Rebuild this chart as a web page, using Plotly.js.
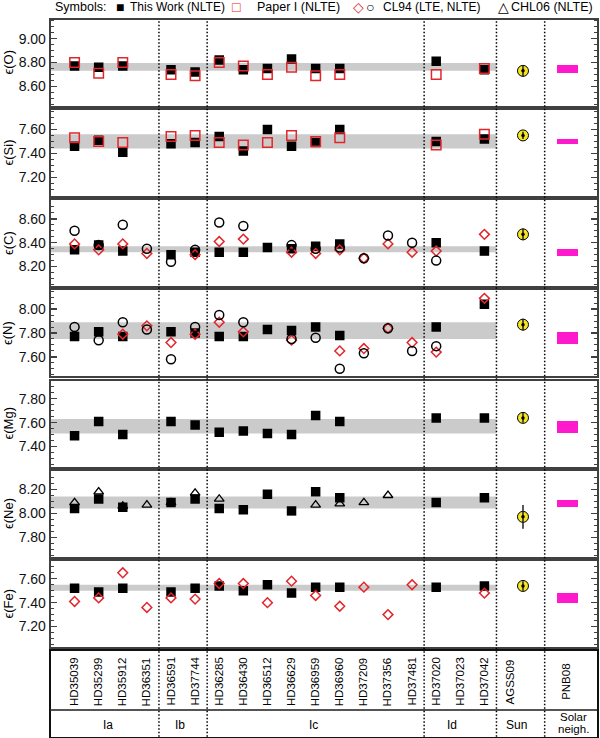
<!DOCTYPE html>
<html>
<head>
<meta charset="utf-8">
<script src="https://cdn.plot.ly/plotly-3.0.1.min.js"></script>
<style>
  html, body { margin: 0; padding: 0; background: #fff; }
  #chart { width: 600px; height: 738px; }
</style>
</head>
<body>
<div id="chart"></div>
<script>
// star names, in column order
const stars = ['HD35039', 'HD35299', 'HD35912', 'HD36351', 'HD36591', 'HD37744',
    'HD36285', 'HD36430', 'HD36512', 'HD36629', 'HD36959', 'HD36960', 'HD37209',
    'HD37356', 'HD37481', 'HD37020', 'HD37023', 'HD37042'];

// abundances, one value per star (null = no measurement)
const oThisWork = [8.77, 8.76, 8.77, null, 8.74, 8.72, 8.82, 8.74, 8.75, 8.83, 8.75, 8.75, null, null, null, 8.81, null, 8.74];
const oPaperI = [8.80, 8.71, 8.80, null, 8.70, 8.69, 8.80, 8.77, 8.70, 8.76, 8.69, 8.70, null, null, null, 8.70, null, 8.75];

const siThisWork = [7.46, 7.51, 7.41, null, 7.48, 7.49, 7.54, 7.42, 7.60, 7.46, 7.49, 7.60, null, null, null, 7.50, null, 7.52];
const siPaperI = [7.53, 7.50, 7.49, null, 7.54, 7.55, 7.49, 7.47, 7.49, 7.55, 7.50, 7.53, null, null, null, 7.47, null, 7.56];

const cThisWork = [8.34, 8.38, 8.33, null, 8.30, 8.32, 8.32, 8.32, 8.36, 8.35, 8.37, 8.39, null, null, null, 8.40, null, 8.33];
const cCL94Lte = [8.39, 8.34, 8.39, 8.31, null, 8.30, 8.41, 8.43, null, 8.32, 8.31, 8.34, 8.27, 8.39, 8.32, 8.33, null, 8.47];
const cCL94Nlte = [8.50, 8.38, 8.55, 8.35, 8.24, 8.34, 8.57, 8.54, null, 8.38, 8.35, 8.36, 8.27, 8.46, 8.40, 8.25, null, null];

const nThisWork = [7.77, 7.81, 7.77, null, 7.81, 7.80, 7.77, 7.77, 7.83, 7.82, 7.85, 7.78, null, null, null, 7.85, null, 8.04];
const nCL94Lte = [null, null, 7.79, 7.86, 7.72, 7.79, 7.89, 7.81, null, 7.74, null, 7.65, 7.67, 7.84, 7.72, 7.64, null, 8.09];
const nCL94Nlte = [7.85, 7.74, 7.89, 7.83, 7.58, 7.85, 7.95, 7.89, null, 7.75, 7.76, 7.50, 7.63, 7.84, 7.65, 7.69, null, null];

const mgThisWork = [7.49, 7.61, 7.50, null, 7.61, 7.58, 7.52, 7.53, 7.51, 7.50, 7.66, 7.61, null, null, null, 7.64, null, 7.64];

const neThisWork = [8.04, 8.12, 8.05, null, 8.09, 8.12, 8.04, 8.03, 8.16, 8.02, 8.18, 8.13, null, null, null, 8.09, null, 8.13];
const neCHL06 = [8.09, 8.18, 8.06, 8.07, 8.09, 8.17, 8.12, null, null, null, 8.07, 8.08, 8.09, 8.15, null, null, null, null];

const feThisWork = [7.52, 7.49, 7.52, null, 7.49, 7.52, 7.54, 7.50, 7.55, 7.48, 7.53, 7.53, null, null, null, 7.53, null, 7.54];
const feCL94Lte = [7.41, 7.44, 7.65, 7.36, 7.44, 7.43, 7.56, 7.56, 7.40, 7.58, 7.46, 7.37, 7.53, 7.30, 7.55, null, null, 7.48];

// order: O, Si, C, N, Mg, Ne, Fe
const elements = ['O', 'Si', 'C', 'N', 'Mg', 'Ne', 'Fe'];
const sunAbund = [8.73, 7.55, 8.47, 7.87, 7.64, 7.97, 7.54];
const sunErr = [0.05, 0.03, 0.05, 0.05, 0.04, 0.10, 0.04];
const pnbAbund = [8.745, 7.50, 8.32, 7.76, 7.56, 8.08, 7.44];
const pnbErr = [0.03, 0.02, 0.03, 0.05, 0.05, 0.03, 0.04];
const bandLow = [8.73, 7.44, 8.32, 7.75, 7.51, 8.04, 7.50];
const bandHigh = [8.795, 7.56, 8.37, 7.89, 7.63, 8.14, 7.55];

const groupNames = ['Ia', 'Ib', 'Ic', 'Id', 'Sun'];

// ---- layout constants (pixels of the 600x738 page) ----
const W = 600, H = 738;
const FONT = 'Liberation Sans, DejaVu Sans, sans-serif';
const RED = '#e3262b';
const FRAME = '#404040';
const xRange = [-0.99, 21.67];
const xDomain = [50.7 / W, 597 / W];
const sunX = 18.6, pnbX = 20.45, bandEnd = 17.5;
const separators = [3.5, 5.5, 14.5, 17.5, 19.5];
const panelTops = [19.5, 109.5, 200, 290, 380.5, 471, 560.5];
const panelHeight = 86;
const yRanges = [[8.44, 9.16], [7.047, 7.767], [8.037, 8.758], [7.44, 8.16],
    [7.233, 7.953], [7.634, 8.354], [7.033, 7.753]];
const boxTop = 650.7, boxBottom = 736.7;
const groupX = [1.38, 4.39, 9.93, 15.66, 18.35];

function paperY(px) {
    return 1 - px / H;
}

const styles = {
    work: { symbol: 'square', size: 9.5, color: '#000', line: { width: 0 } },
    paper: { symbol: 'square-open', size: 9.5, color: RED, line: { width: 1.5, color: RED } },
    lte: { symbol: 'diamond-open', size: 7.5, color: RED, line: { width: 1.5, color: RED } },
    nlte: { symbol: 'circle-open', size: 9, color: '#000', line: { width: 1.5, color: '#000' } },
    chl: { symbol: 'triangle-up-open', size: 8.5, color: '#000', line: { width: 1.3, color: '#000' } },
};

const panels = [
    [[oThisWork, 'work'], [oPaperI, 'paper']],
    [[siThisWork, 'work'], [siPaperI, 'paper']],
    [[cThisWork, 'work'], [cCL94Lte, 'lte'], [cCL94Nlte, 'nlte']],
    [[nThisWork, 'work'], [nCL94Lte, 'lte'], [nCL94Nlte, 'nlte']],
    [[mgThisWork, 'work']],
    [[neThisWork, 'work'], [neCHL06, 'chl']],
    [[feThisWork, 'work'], [feCL94Lte, 'lte']],
];

const starX = stars.map((s, i) => i);
const traces = [];
const shapes = [];
const annotations = [];
const layout = {
    width: W,
    height: H,
    margin: { l: 0, r: 0, t: 0, b: 0 },
    paper_bgcolor: '#fff',
    plot_bgcolor: '#fff',
    showlegend: false,
    font: { family: FONT, color: '#000' },
    bargap: 0,
};

panels.forEach((series, k) => {
    const n = k === 0 ? '' : String(k + 1);
    const xa = 'x' + n, ya = 'y' + n;

    series.forEach(([vals, style]) => {
        traces.push({
            type: 'scatter', mode: 'markers', x: starX, y: vals,
            xaxis: xa, yaxis: ya, marker: styles[style], hoverinfo: 'skip',
        });
    });

    // Sun (AGSS09)
    traces.push({
        type: 'scatter', mode: 'markers', x: [sunX], y: [sunAbund[k]],
        xaxis: xa, yaxis: ya, hoverinfo: 'skip',
        marker: { symbol: 'circle', size: 11, color: '#f5e625', line: { width: 1, color: '#000' } },
    });
    traces.push({
        type: 'scatter', mode: 'markers', x: [sunX], y: [sunAbund[k]],
        xaxis: xa, yaxis: ya, hoverinfo: 'skip',
        marker: { symbol: 'circle', size: 3.5, color: '#000' },
        error_y: { type: 'data', array: [sunErr[k]], visible: true, color: '#222', thickness: 1.5, width: 0 },
    });

    // solar neighbourhood (PNB08) box
    traces.push({
        type: 'bar', x: [pnbX], y: [2 * pnbErr[k]], base: [pnbAbund[k] - pnbErr[k]], width: [0.9],
        xaxis: xa, yaxis: ya, hoverinfo: 'skip',
        marker: { color: '#ff19cc', line: { width: 0 } },
    });

    shapes.push({
        type: 'rect', xref: xa, yref: ya, x0: xRange[0], x1: bandEnd,
        y0: bandLow[k], y1: bandHigh[k], fillcolor: '#cbcbcb', line: { width: 0 }, layer: 'below',
    });

    const top = panelTops[k], bottom = top + panelHeight;
    layout['xaxis' + n] = {
        domain: xDomain, range: xRange, anchor: ya,
        showline: true, mirror: true, linecolor: FRAME, linewidth: 2,
        ticks: '', showticklabels: false, showgrid: false, zeroline: false,
    };
    layout['yaxis' + n] = {
        domain: [paperY(bottom), paperY(top)], range: yRanges[k], anchor: xa,
        showline: true, mirror: 'allticks', linecolor: FRAME, linewidth: 2,
        ticks: 'inside', ticklen: 6, tickwidth: 1.3, tickcolor: FRAME,
        tick0: 0, dtick: 0.2, tickformat: '.2f',
        minor: { dtick: 0.05, ticks: 'inside', ticklen: 3, tickwidth: 1, tickcolor: FRAME, showgrid: false },
        tickfont: { family: FONT, size: 14, color: '#111' },
        showgrid: false, zeroline: false,
    };

    annotations.push({
        xref: 'paper', yref: 'paper', x: 8 / W, y: paperY(top + panelHeight / 2),
        text: 'ϵ(' + elements[k] + ')', textangle: -90, showarrow: false,
        xanchor: 'center', yanchor: 'middle',
        font: { family: FONT, size: 13, color: '#000' },
    });
});

// star label box under the panels
layout.xaxis8 = {
    domain: xDomain, range: xRange, anchor: 'y8',
    showline: true, mirror: true, linecolor: '#111', linewidth: 1.5,
    ticks: '', showticklabels: false, showgrid: false, zeroline: false,
};
layout.yaxis8 = {
    domain: [paperY(boxBottom), paperY(boxTop)], range: [0, 1], anchor: 'x8',
    showline: true, mirror: true, linecolor: '#111', linewidth: 1.5,
    ticks: '', showticklabels: false, showgrid: false, zeroline: false,
};
shapes.push({
    type: 'line', xref: 'x8 domain', yref: 'y8', x0: 0, x1: 1, y0: 0.31, y1: 0.31,
    line: { color: '#555', width: 2 },
});

const colLabels = stars.map((s, i) => [s, i]).concat([['AGSS09', 18.1], ['PNB08', 20.4]]);
colLabels.forEach(([name, x]) => {
    annotations.push({
        xref: 'x8', yref: 'y8', x: x, y: 0.642, text: name, textangle: -90,
        showarrow: false, xanchor: 'center', yanchor: 'middle',
        font: { family: FONT, size: 11.5, color: '#000' },
    });
});
groupNames.forEach((g, i) => {
    annotations.push({
        xref: 'x8', yref: 'y8', x: groupX[i], y: 0.136, text: g, showarrow: false,
        font: { family: FONT, size: 12, color: '#000' },
    });
});
annotations.push({
    xref: 'x8', yref: 'y8', x: 20.68, y: 0.225, text: 'Solar', showarrow: false,
    font: { family: FONT, size: 11.5, color: '#000' },
});
annotations.push({
    xref: 'x8', yref: 'y8', x: 20.68, y: 0.095, text: 'neigh.', showarrow: false,
    font: { family: FONT, size: 11.5, color: '#000' },
});

// dotted group separators through all panels and the label box
separators.forEach((sx) => {
    shapes.push({
        type: 'line', xref: 'x', yref: 'paper', x0: sx, x1: sx,
        y0: paperY(boxBottom), y1: paperY(panelTops[0]),
        line: { color: '#000', width: 1.5, dash: '1.5px,2px' }, layer: 'above',
    });
});

// symbol key on top
const key = [
    ['Symbols:', 54, '#000', 12.5],
    ['■', 115, '#000', 14],
    ['This Work (NLTE)', 129, '#000', 12],
    ['□', 231, RED, 14],
    ['Paper I (NLTE)', 256, '#000', 12.5],
    ['◇', 352, RED, 14],
    ['○', 365, '#000', 14],
    ['CL94 (LTE, NLTE)', 382, '#000', 12],
    ['△', 497, '#000', 14],
    ['CHL06 (NLTE)', 510, '#000', 12.5],
];
key.forEach(([txt, px, col, size]) => {
    annotations.push({
        xref: 'paper', yref: 'paper', x: px / W, y: paperY(7.5), text: txt,
        showarrow: false, xanchor: 'left', yanchor: 'middle', borderpad: 0,
        font: { family: FONT, size: size, color: col },
    });
});

layout.shapes = shapes;
layout.annotations = annotations;

Plotly.newPlot('chart', traces, layout, { displayModeBar: false, staticPlot: true });
</script>
</body>
</html>
